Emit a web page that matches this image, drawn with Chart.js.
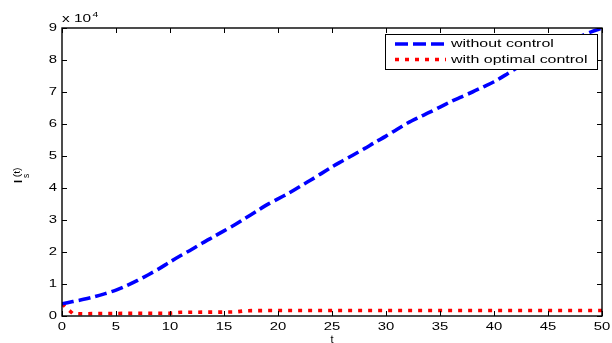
<!DOCTYPE html>
<html><head><meta charset="utf-8">
<script src="https://cdn.jsdelivr.net/npm/chart.js@4.4.1/dist/chart.umd.min.js"></script>
<style>html,body{margin:0;padding:0;background:#fff;overflow:hidden}</style>
</head><body>
<canvas id="c" width="612" height="343"></canvas>
<script>
// ---- data ----
const tValues = [0,1,2,3,4,5,6,7,8,9,10,11,12,13,14,15,16,17,18,19,20,21,22,23,24,25,26,27,28,29,30,31,32,33,34,35,36,37,38,39,40,41,42,43,44,45,46,47,48,49,50];
const withoutControl = [3800,4500,5200,6000,7000,8100,9500,11100,12900,14800,16900,18900,20800,22800,24700,26600,28500,30600,32700,34800,36600,38400,40400,42400,44500,46600,48500,50400,52300,54300,56200,58300,60300,62000,63600,65300,67000,68500,70000,71600,73200,75200,77300,79200,81000,82700,84300,85900,87400,88800,90000];
const withOptimalControl = [3800,750,700,750,780,800,820,850,850,850,850,1150,1180,1200,1200,1220,1250,1650,1680,1700,1700,1700,1700,1700,1700,1700,1700,1700,1700,1700,1700,1700,1700,1700,1700,1700,1700,1700,1700,1700,1700,1700,1700,1700,1700,1700,1700,1700,1700,1700,1700];
const seriesLabels = ['without control', 'with optimal control'];
const xTickStep = 5, xMin = 0, xMax = 50;
const yTickStep = 10000, yMin = 0, yMax = 90000;
const yScaleFactor = 10000;
const yExponentText = 'x 10', yExponentPower = '4';
const xTitle = 't';
const yTitleMain = 'I', yTitleSub = 's', yTitleSup = '(t)';

const FONT = "'Liberation Sans', Arial, sans-serif";
const STRETCH = 1.35;

function stretchedText(ctx, text, x, y, align, sx) {
  ctx.save();
  ctx.translate(x, y);
  ctx.scale(sx, 1);
  ctx.textAlign = align;
  ctx.fillText(text, 0, 0);
  ctx.restore();
}

const framePlugin = {
  id: 'frame',
  afterDatasetsDraw(chart) {
    const ctx = chart.ctx;
    const a = chart.chartArea;
    const xs = chart.scales.x, ys = chart.scales.y;
    ctx.save();
    ctx.strokeStyle = '#000';
    ctx.lineWidth = 1.4;
    ctx.strokeRect(a.left, a.top, a.right - a.left, a.bottom - a.top);
    ctx.lineWidth = 1;
    const tl = 5;
    ctx.beginPath();
    xs.ticks.forEach(t => {
      const px = Math.round(xs.getPixelForValue(t.value)) + 0.5;
      ctx.moveTo(px, a.bottom); ctx.lineTo(px, a.bottom - tl);
      ctx.moveTo(px, a.top); ctx.lineTo(px, a.top + tl);
    });
    ys.ticks.forEach(t => {
      const py = Math.round(ys.getPixelForValue(t.value)) + 0.5;
      ctx.moveTo(a.left, py); ctx.lineTo(a.left + tl, py);
      ctx.moveTo(a.right, py); ctx.lineTo(a.right - tl, py);
    });
    ctx.stroke();

    // tick labels (stretched like the original)
    ctx.fillStyle = '#000';
    ctx.font = '11px ' + FONT;
    ctx.textBaseline = 'middle';
    ys.ticks.forEach(t => {
      stretchedText(ctx, String(t.label), a.left - 5, ys.getPixelForValue(t.value), 'right', STRETCH);
    });
    ctx.textBaseline = 'alphabetic';
    xs.ticks.forEach(t => {
      stretchedText(ctx, String(t.label), xs.getPixelForValue(t.value), a.bottom + 13.5, 'center', STRETCH);
    });

    // legend
    const lx = 385, ly = 34, lw = 212, lh = 35;
    ctx.fillStyle = '#fff';
    ctx.fillRect(lx, ly, lw, lh);
    ctx.lineWidth = 1;
    ctx.strokeStyle = '#000';
    ctx.strokeRect(lx + 0.5, ly + 0.5, lw, lh);
    const rows = [44, 59.5];
    chart.data.datasets.forEach((ds, i) => {
      ctx.save();
      ctx.strokeStyle = ds.borderColor;
      ctx.lineWidth = ds.borderWidth;
      ctx.setLineDash(ds.legendDash);
      ctx.lineCap = 'butt';
      ctx.beginPath();
      ctx.moveTo(395, rows[i]); ctx.lineTo(446, rows[i]);
      ctx.stroke();
      ctx.restore();
      ctx.fillStyle = '#000';
      ctx.font = '11px ' + FONT;
      ctx.textBaseline = 'middle';
      stretchedText(ctx, ds.label, 451, rows[i], 'left', 1.45);
    });

    // exponent label
    ctx.fillStyle = '#000';
    ctx.textBaseline = 'alphabetic';
    ctx.textAlign = 'left';
    ctx.font = '11px ' + FONT;
    ctx.save();
    ctx.translate(62, 22);
    ctx.scale(1.4, 1);
    ctx.fillText(yExponentText, 0, 0);
    const w = ctx.measureText(yExponentText).width;
    ctx.font = '7.5px ' + FONT;
    ctx.fillText(yExponentPower, w + 1, -5);
    ctx.restore();

    // x title
    ctx.font = '11px ' + FONT;
    ctx.textAlign = 'center';
    ctx.fillText(xTitle, (a.left + a.right) / 2, 343);

    // y title
    ctx.save();
    ctx.translate(21.5, 183);
    ctx.rotate(-Math.PI / 2);
    ctx.textAlign = 'left';
    ctx.font = 'bold 11px ' + FONT;
    ctx.fillText(yTitleMain, 0, 0);
    ctx.font = '8.5px ' + FONT;
    ctx.fillText(yTitleSub, 5, 7);
    ctx.save();
    ctx.font = '9px ' + FONT;
    ctx.scale(1.15, 1);
    ctx.fillText(yTitleSup, 5, -2);
    ctx.restore();
    ctx.restore();
    ctx.restore();
  }
};

new Chart(document.getElementById('c'), {
  type: 'line',
  data: {
    datasets: [
      {
        label: seriesLabels[0],
        data: tValues.map((t, i) => ({x: t, y: withoutControl[i]})),
        borderColor: '#0000ff',
        borderWidth: 3.6,
        borderDash: [12, 5],
        legendDash: [13, 5],
        borderCapStyle: 'butt',
        pointRadius: 0,
        tension: 0.3,
        fill: false
      },
      {
        label: seriesLabels[1],
        data: tValues.map((t, i) => ({x: t, y: withOptimalControl[i]})),
        borderColor: '#ff0000',
        borderWidth: 3.6,
        borderDash: [4, 6],
        legendDash: [4, 6],
        borderCapStyle: 'butt',
        pointRadius: 0,
        tension: 0,
        fill: false
      }
    ]
  },
  options: {
    responsive: false,
    animation: false,
    devicePixelRatio: 1,
    layout: {padding: {left: 0, top: 28, right: 10, bottom: 0}},
    plugins: {legend: {display: false}, tooltip: {enabled: false}},
    scales: {
      x: {
        type: 'linear', min: xMin, max: xMax,
        afterFit(s) { s.height = 27; },
        grid: {display: false, drawTicks: false},
        border: {display: false},
        ticks: {stepSize: xTickStep, padding: 3, color: 'rgba(0,0,0,0)', maxRotation: 0, autoSkip: false,
                font: {family: FONT, size: 11}}
      },
      y: {
        type: 'linear', min: yMin, max: yMax,
        afterFit(s) { s.width = 62; },
        grid: {display: false, drawTicks: false},
        border: {display: false},
        ticks: {stepSize: yTickStep, padding: 5, color: 'rgba(0,0,0,0)',
                font: {family: FONT, size: 11},
                callback: v => v / yScaleFactor}
      }
    }
  },
  plugins: [framePlugin]
});
</script>
</body></html>
